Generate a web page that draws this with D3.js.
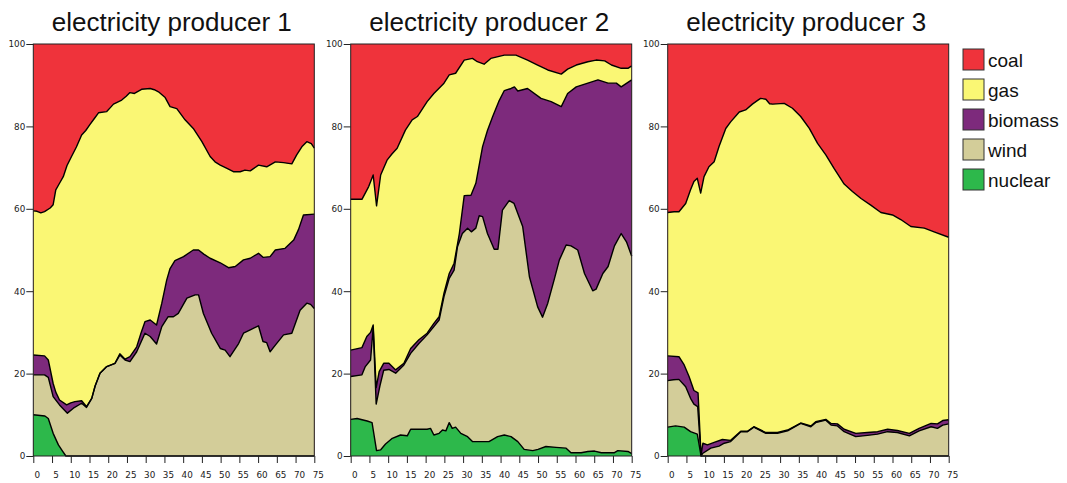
<!DOCTYPE html>
<html>
<head>
<meta charset="utf-8">
<script src="https://cdn.jsdelivr.net/npm/d3@7"></script>
<style>
  body { margin: 0; background: #fff; }
  svg { display: block; }
</style>
</head>
<body>
<div id="chart"></div>
<script>
// series names, legend order (top layer first)
const seriesNames = ["coal", "gas", "biomass", "wind", "nuclear"];
const seriesColors = ["#EF333B", "#FAF774", "#7D2A7C", "#D3CD99", "#2DB84B"];
const producerTitles = ["electricity producer 1", "electricity producer 2", "electricity producer 3"];
const xTicks = [0, 5, 10, 15, 20, 25, 30, 35, 40, 45, 50, 55, 60, 65, 70, 75];
const yTicks = [0, 20, 40, 60, 80, 100];

// upper edge of each stacked layer, [x, cumulative %]
const p1Coal = [[0, 100], [75, 100]];
const p1Gas = [[0, 59.5], [1, 59.4], [2, 59], [3, 59.3], [4.5, 60.2], [5.3, 61], [6, 64.6], [7, 66.2], [8, 67.8], [9, 70.5], [10.2, 72.7], [11.5, 75], [12.9, 77.9], [14, 79], [15, 80.3], [16.2, 81.8], [17.4, 83.3], [19.6, 83.6], [20.5, 84.5], [21.4, 85.4], [23.6, 86.4], [24.8, 87.3], [25.8, 88.2], [27, 88], [28.9, 89], [31.2, 89.2], [32.3, 88.9], [33.4, 88.4], [35.2, 87], [36.5, 84.8], [38.3, 84.3], [40.5, 81.6], [42.7, 79.5], [45, 76.3], [47.2, 72.7], [48.5, 71.4], [49.9, 70.6], [51.7, 69.8], [53.4, 69], [55.2, 69], [56.5, 69.4], [57.9, 69.2], [60.1, 70.6], [62.3, 70.2], [64.6, 71.4], [66.8, 71.2], [69, 70.9], [70.3, 73.1], [71.8, 75.2], [73, 76.3], [74.2, 75.8], [75, 74.7]];
const p1Biomass = [[0, 24.5], [3, 24.3], [4, 23.3], [5.3, 17.6], [6, 15.5], [7, 13.6], [8.9, 12.4], [10, 12.9], [11.1, 13.2], [12.9, 13.4], [14.2, 12], [15.6, 14], [16.5, 17], [17.8, 20.1], [19.6, 21.7], [21.8, 22.5], [23.1, 24.8], [24.5, 23.5], [25.8, 24.1], [27.6, 26.5], [28.8, 30], [29.8, 32.6], [31.2, 33], [32.9, 31.8], [34.3, 37.1], [35.6, 42.7], [36.5, 45.5], [37.8, 47.4], [40.1, 48.4], [42.7, 50], [44.1, 50], [45.5, 49], [47.2, 48], [49.9, 46.9], [52.1, 45.7], [53.9, 46], [56.1, 47.6], [57.9, 48], [60.1, 49.2], [61.4, 48.2], [63.2, 48.4], [64.6, 50], [67.2, 50.4], [69.5, 52.4], [70.8, 55], [72.1, 58.5], [75, 58.7]];
const p1Wind = [[0, 19.7], [3, 19.7], [4, 19.1], [5.3, 14.4], [7, 12.4], [9.1, 10.4], [10.7, 11.6], [12.9, 12.8], [14.2, 11.8], [15.6, 14], [16.5, 17], [17.8, 20.1], [19.6, 21.7], [21.8, 22.5], [23.1, 24.5], [24.5, 23.3], [25.8, 22.9], [27.6, 25.3], [29.8, 29.8], [31.2, 29], [32.9, 27.2], [34.3, 31.4], [36, 33.8], [37.4, 33.8], [38.7, 34.6], [41, 38.3], [43.2, 39.1], [44.1, 39.1], [45.4, 34.6], [47.6, 29.8], [49.9, 26.1], [51.2, 25.7], [52.5, 24.1], [54.8, 27.3], [56.1, 29.8], [57.9, 30.6], [60.1, 31.6], [61.3, 27.8], [62.3, 27.5], [63.2, 25.3], [64.6, 26.9], [66.8, 29.4], [69, 29.8], [71.2, 35.4], [73, 37.1], [74, 36.8], [75, 35.8]];
const p1Nuclear = [[0, 10], [3.1, 9.7], [4, 9.1], [5.3, 5.5], [6.7, 2.7], [7.8, 1.2], [8.7, 0], [75, 0]];

const p2Coal = [[0, 100], [75, 100]];
const p2Gas = [[0, 62.3], [3, 62.3], [4.8, 65.4], [6, 68.2], [6.9, 60.7], [8, 68.2], [9.7, 71.8], [11, 73.3], [12.4, 74.7], [14.6, 79.1], [16.4, 81.6], [17.8, 82.4], [20.4, 86], [22.2, 88], [24.9, 90.5], [26.3, 92.5], [28, 92.9], [30.3, 96.1], [32.5, 96.5], [33.8, 95.7], [35.6, 95.1], [37.4, 96.5], [41, 97.3], [44.1, 97.3], [47.2, 96.1], [49.9, 94.9], [52.6, 93.7], [56.2, 92.7], [57.9, 93.9], [60.2, 94.9], [63.3, 95.7], [65.5, 96.1], [67.8, 95.9], [69.6, 94.9], [72.2, 94.1], [74, 94.1], [75, 94.7]];
const p2Biomass = [[0, 25.7], [3, 26.3], [4.3, 29], [5.3, 30], [6, 31.8], [6.8, 16.6], [7.6, 20.5], [8.8, 22.5], [10.2, 22.5], [12, 20.9], [14.2, 22.5], [16, 26.1], [18.2, 28.2], [20.4, 29.8], [22.2, 32.2], [23.6, 33.8], [24.9, 39.5], [26.3, 44.3], [27.6, 46.8], [29, 54], [30.3, 63.2], [32.1, 63.3], [33.4, 66.2], [35.2, 75.1], [36.5, 79], [37.9, 82.4], [39.5, 86], [41, 88.7], [42.8, 89.2], [43.7, 89.6], [44.6, 88.6], [47.2, 89.2], [50.8, 86.8], [53.5, 86], [56.2, 84.8], [57.9, 88], [60.2, 89.6], [63.3, 90.5], [66, 91.3], [68.7, 90.5], [70.9, 90.5], [72.2, 89.6], [75, 91.3]];
const p2Wind = [[0, 19.3], [3, 19.7], [3.9, 21.7], [5.3, 23.3], [6, 31.2], [6.8, 12.6], [7.8, 17], [8.8, 20.8], [10.2, 21], [12, 20.1], [14.2, 22.1], [16, 24.9], [18.2, 27.3], [20.4, 29.4], [22.2, 31.4], [23.6, 33], [24.9, 38.7], [26.3, 43.1], [27.6, 45.1], [28.5, 50.8], [29.8, 54], [31.2, 55.3], [32.2, 54.4], [33.4, 55.3], [34.3, 58.3], [35.2, 58.1], [36.5, 54], [38.3, 50.2], [39.3, 50.2], [40.5, 59.7], [42.3, 62], [43.6, 61.3], [45.9, 55.7], [47.7, 43.5], [49.9, 36.2], [51.2, 33.7], [52.6, 37.1], [54.4, 43.1], [55.7, 47.6], [57.5, 51.2], [58.8, 51], [60.6, 50], [62.4, 44.3], [64.6, 40.1], [65.5, 40.5], [67.3, 44.3], [68.7, 46], [70.4, 51], [72.2, 54], [73.6, 52], [75, 48.5]];
const p2Nuclear = [[0, 8.9], [1.7, 9.1], [4.4, 8.5], [5.7, 8.1], [6.9, 1.3], [8, 1.5], [9.3, 2.9], [11.1, 4.3], [13.3, 5.1], [15.1, 4.9], [16, 6.5], [20.4, 6.5], [21.3, 6.7], [22.2, 5.1], [23.6, 5.5], [24.5, 6.3], [25.4, 6.1], [26.3, 8.1], [27.1, 6.7], [28, 7], [29.4, 5.5], [31.2, 4.7], [32.5, 3.5], [34.3, 3.5], [36.9, 3.5], [39.2, 4.7], [41, 5.1], [42.8, 4.7], [44.6, 3.5], [46.3, 1.6], [48.6, 1.3], [50, 1.6], [52.1, 2.3], [54.8, 2.1], [57.5, 1.9], [58.8, 0.8], [61.5, 0.8], [63.3, 1.1], [65.1, 1.2], [66.9, 0.8], [70.4, 0.8], [71.3, 1.3], [74, 1.1], [75, 0.6]];

const p3Coal = [[0, 100], [75, 100]];
const p3Gas = [[0, 59.1], [1.7, 59.3], [3, 59.3], [4.8, 61.3], [6.1, 64.6], [7, 66.6], [7.9, 67.4], [8.8, 63.8], [9.7, 67.8], [11, 70.2], [12.4, 71.4], [13.7, 75.1], [15.5, 79.5], [16.8, 81.1], [19.1, 83.5], [20.8, 84], [22.6, 85.4], [24, 86.3], [24.8, 86.8], [26.2, 86.6], [27.2, 85.5], [28, 85.4], [31.1, 85.6], [33.3, 84.4], [35.5, 82.4], [37.8, 79.5], [40, 75.9], [42.2, 73.1], [44.4, 69.8], [47.1, 66], [49.3, 64.2], [51.6, 62.5], [54.2, 60.9], [56.9, 59.1], [60, 58.5], [62.2, 57.4], [64.9, 55.7], [68.5, 55.3], [71.1, 54.4], [75, 53.1]];
const p3Biomass = [[0, 24.3], [3, 24.1], [4.4, 22.1], [5.7, 19.3], [7, 15.9], [8.1, 15.3], [8.9, 0.2], [9.4, 3.1], [10.6, 2.7], [12.4, 3.3], [14.6, 4], [16.8, 3.8], [19.5, 6], [21.3, 6], [23, 7.1], [26.2, 5.7], [29.3, 5.7], [32, 6.3], [35.5, 8], [38.2, 7.3], [39.5, 8.3], [42.2, 8.9], [43.6, 7.9], [45.3, 7.8], [47.1, 6.5], [50.2, 5.5], [53.3, 5.7], [56, 5.9], [58.7, 6.5], [61.3, 6.2], [64.5, 5.5], [67.1, 6.7], [70.3, 7.9], [72, 7.8], [73.4, 8.6], [75, 8.8]];
const p3Wind = [[0, 18.3], [1.5, 18.5], [3, 18.6], [4.8, 16.8], [6.1, 14], [7, 12.6], [8, 12], [8.9, 0], [9.3, 0.6], [11.5, 1.9], [13.7, 2.4], [15.1, 3.1], [16.8, 3.5], [19.5, 5.9], [21.3, 5.9], [23, 7], [26.2, 5.5], [29.3, 5.5], [32, 6.1], [35.5, 7.9], [38.2, 7.1], [39.5, 8.1], [42.2, 8.7], [43.6, 7.5], [45.3, 7.3], [47.1, 5.9], [50.2, 4.7], [53.3, 5], [56, 5.3], [58.7, 5.9], [61.3, 5.7], [64.5, 4.9], [67.1, 6.1], [70.3, 7.1], [72, 6.7], [73.4, 7.5], [75, 7.8]];
const p3Nuclear = [[0, 7], [2.1, 7.3], [4.4, 7], [6.1, 5.9], [7.9, 5.3], [8.9, 0], [75, 0]];

const panels = [
    [p1Coal, p1Gas, p1Biomass, p1Wind, p1Nuclear],
    [p2Coal, p2Gas, p2Biomass, p2Wind, p2Nuclear],
    [p3Coal, p3Gas, p3Biomass, p3Wind, p3Nuclear]
];

const width = 1067, height = 483;
const panelLeft = [33.3, 350.7, 667.7];
const panelWidth = 281;
const plotTop = 44, plotBottom = 456;

const svg = d3.select("#chart")
    .append("svg")
    .attr("width", width)
    .attr("height", height);

const y = d3.scaleLinear().domain([0, 100]).range([plotBottom, plotTop]);

panels.forEach((layers, i) => {
    const left = panelLeft[i];
    const x = d3.scaleLinear().domain([0, 75]).range([left, left + panelWidth]);

    const area = d3.area()
        .x(d => x(d[0]))
        .y0(y(0))
        .y1(d => y(d[1]));
    const line = d3.line()
        .x(d => x(d[0]))
        .y(d => y(d[1]));

    const g = svg.append("g").attr("class", "panel");

    // paint back to front: each layer filled down to 0, so later layers cover earlier
    layers.forEach((data, k) => {
        g.append("path")
            .attr("d", area(data))
            .attr("fill", seriesColors[k]);
    });
    // boundary lines
    layers.slice(1).forEach(data => {
        g.append("path")
            .attr("d", line(data))
            .attr("fill", "none")
            .attr("stroke", "#000")
            .attr("stroke-width", 1.4)
            .attr("stroke-linejoin", "round");
    });

    // frame
    g.append("rect")
        .attr("x", left)
        .attr("y", plotTop)
        .attr("width", panelWidth)
        .attr("height", plotBottom - plotTop)
        .attr("fill", "none")
        .attr("stroke", "#222")
        .attr("stroke-width", 1);

    // axes
    const yAxis = g.append("g")
        .attr("transform", `translate(${left},0)`)
        .call(d3.axisLeft(y).tickValues(yTicks).tickSize(7).tickPadding(1));
    const xAxis = g.append("g")
        .attr("transform", `translate(0,${plotBottom})`)
        .call(d3.axisBottom(x).tickValues(xTicks).tickSize(7).tickPadding(9));
    [yAxis, xAxis].forEach(ax => {
        ax.select(".domain").remove();
        ax.selectAll(".tick line").attr("stroke", "#222");
        ax.selectAll(".tick text")
            .attr("fill", "#222")
            .style("font-family", "'DejaVu Sans', sans-serif")
            .style("font-size", "8.8px");
    });
    xAxis.selectAll(".tick text").attr("dx", 3.5);

    // title
    svg.append("text")
        .attr("x", left + panelWidth / 2 - 2)
        .attr("y", 31)
        .attr("text-anchor", "middle")
        .style("font-family", "'Liberation Sans', Arial, sans-serif")
        .style("font-size", "26px")
        .attr("fill", "#111")
        .text(producerTitles[i]);
});

// legend
const legend = svg.append("g").attr("class", "legend");
seriesNames.forEach((name, k) => {
    legend.append("rect")
        .attr("x", 963)
        .attr("y", 49 + k * 30)
        .attr("width", 21)
        .attr("height", 21)
        .attr("fill", seriesColors[k])
        .attr("stroke", "#333")
        .attr("stroke-width", 1);
    legend.append("text")
        .attr("x", 988)
        .attr("y", 66.5 + k * 30)
        .style("font-family", "'Liberation Sans', Arial, sans-serif")
        .style("font-size", "19px")
        .attr("fill", "#111")
        .text(name);
});
</script>
</body>
</html>
